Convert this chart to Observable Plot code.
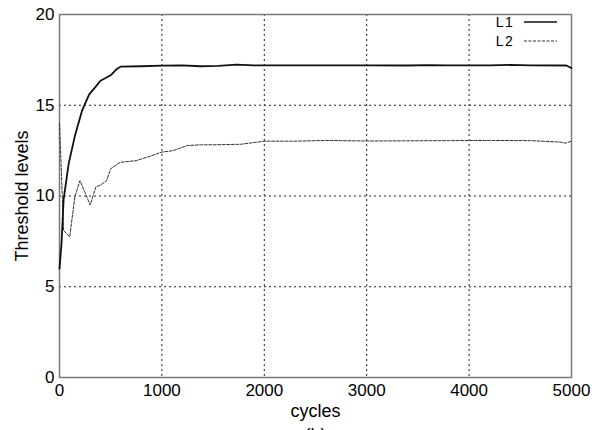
<!DOCTYPE html>
<html>
<head>
<meta charset="utf-8">
<script src="https://cdn.jsdelivr.net/npm/d3@7"></script>
<script src="https://cdn.jsdelivr.net/npm/@observablehq/plot@0.6"></script>
<style>
  html, body { margin: 0; padding: 0; background: #fff; }
  #chart svg { display: block; }
</style>
</head>
<body>
<div id="chart"></div>
<script>
// Threshold level L1 over training cycles
const l1Cycles = [0, 20, 40, 90, 150, 220, 290, 350, 400, 500, 560, 600, 800, 1000, 1200, 1375, 1550, 1730, 1900, 2200, 2600, 3000, 3400, 3600, 3800, 4200, 4400, 4600, 4950, 5000];
const l1Values = [6.0, 7.4, 9.8, 11.8, 13.3, 14.7, 15.6, 16.0, 16.35, 16.65, 17.0, 17.13, 17.15, 17.18, 17.2, 17.15, 17.17, 17.24, 17.2, 17.2, 17.2, 17.2, 17.19, 17.21, 17.2, 17.2, 17.22, 17.2, 17.19, 17.05];

// Threshold level L2 over training cycles
const l2Cycles = [0, 40, 100, 150, 200, 300, 355, 400, 460, 500, 590, 750, 890, 1000, 1110, 1250, 1375, 1500, 1770, 2000, 2300, 2600, 3000, 3400, 3800, 4200, 4600, 4890, 4940, 5000];
const l2Values = [14.0, 8.1, 7.75, 9.95, 10.85, 9.5, 10.5, 10.6, 10.85, 11.5, 11.85, 11.95, 12.2, 12.42, 12.5, 12.78, 12.82, 12.82, 12.85, 13.02, 13.02, 13.06, 13.03, 13.04, 13.05, 13.06, 13.05, 12.97, 12.91, 13.02];

const xTicks = [0, 1000, 2000, 3000, 4000, 5000];
const yTicks = [0, 5, 10, 15, 20];
const xGrid = [1000, 2000, 3000, 4000];
const yGrid = [5, 10, 15];
const seriesNames = ["L1", "L2"];

const l1 = l1Cycles.map((c, i) => ({cycle: c, level: l1Values[i]}));
const l2 = l2Cycles.map((c, i) => ({cycle: c, level: l2Values[i]}));

const font = "'Liberation Sans', Arial, Helvetica, sans-serif";

const plot = Plot.plot({
  width: 602,
  height: 430,
  marginLeft: 59,
  marginRight: 31,
  marginTop: 14,
  marginBottom: 53,
  style: {fontFamily: font, fontSize: "17px", color: "#000", background: "#fff"},
  x: {domain: [0, 5000]},
  y: {domain: [0, 20]},
  marks: [
    Plot.gridX(xGrid, {stroke: "#222", strokeOpacity: 1, strokeWidth: 1, strokeDasharray: "2,3"}),
    Plot.gridY(yGrid, {stroke: "#222", strokeOpacity: 1, strokeWidth: 1, strokeDasharray: "2,3"}),
    Plot.frame({stroke: "#7a7a7a", strokeWidth: 1.5}),
    Plot.axisX(xTicks, {tickSize: 0, tickPadding: 6, label: null, fontSize: 17, tickFormat: d => String(d)}),
    Plot.axisY(yTicks, {tickSize: 0, tickPadding: 5, label: null, fontSize: 17, tickFormat: d => String(d)}),
    Plot.line(l2, {x: "cycle", y: "level", stroke: "#333", strokeWidth: 1, strokeDasharray: "3,1.5"}),
    Plot.line(l1, {x: "cycle", y: "level", stroke: "#111", strokeWidth: 1.8}),
    Plot.text(["cycles"], {frameAnchor: "bottom", dy: 39, lineAnchor: "bottom", fontSize: 18}),
    Plot.text(["(b)"], {frameAnchor: "bottom", dy: 63, lineAnchor: "bottom", fontSize: 18}),
    Plot.text(["Threshold levels"], {frameAnchor: "left", dx: -32, rotate: -90, textAnchor: "middle", lineAnchor: "bottom", fontSize: 18})
  ]
});

document.getElementById("chart").appendChild(plot);

// Legend in the upper-right corner of the frame
const svg = d3.select(plot);
const legend = svg.append("g").attr("font-family", font).attr("font-size", 14);
seriesNames.forEach((name, i) => {
  const y = 22 + i * 19;
  legend.append("text")
    .attr("x", 505).attr("y", y + 5)
    .attr("letter-spacing", "1.5px")
    .attr("fill", "#000")
    .text(name);
  legend.append("line")
    .attr("x1", 524).attr("x2", 557)
    .attr("y1", y).attr("y2", y)
    .attr("stroke", i === 0 ? "#111" : "#333")
    .attr("stroke-width", i === 0 ? 1.5 : 1)
    .attr("stroke-dasharray", i === 0 ? null : "3,1.5");
});
</script>
</body>
</html>
